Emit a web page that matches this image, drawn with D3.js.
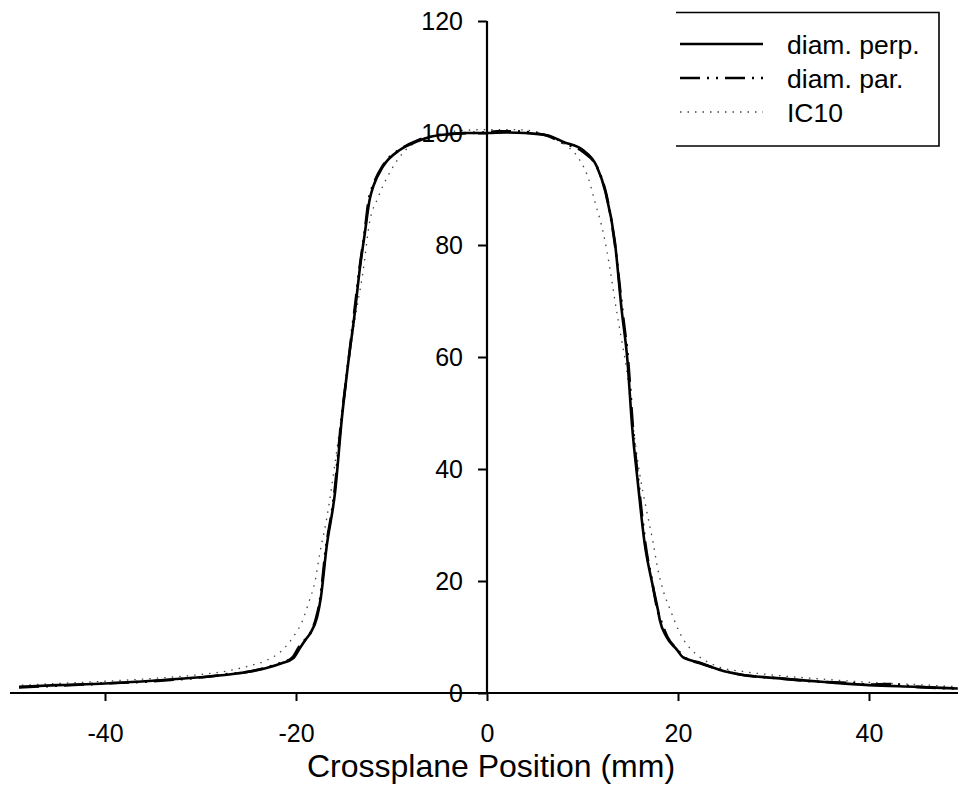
<!DOCTYPE html>
<html>
<head>
<meta charset="utf-8">
<script src="https://cdn.jsdelivr.net/npm/d3@7"></script>
<style>
  html, body { margin: 0; padding: 0; background: #fff; }
  svg { display: block; }
  text { font-family: "Liberation Sans", Arial, sans-serif; fill: #000; }
</style>
</head>
<body>
<svg id="chart" width="958" height="806"></svg>
<script>
// ---- data (mm, relative dose %) ----
const perpX = [-49, -45, -40, -35, -30, -27, -25, -23, -21.5, -20.3, -19.6, -19, -18.5, -17.8, -17.4, -16.8, -15.9, -15.2, -14.6, -13.8, -13.3, -12.8, -12.3, -11.9, -10.9, -9.1, -7.3, -6, -4, -2, 0, 2, 4, 6.3, 8, 10, 11.5, 12.4, 13.4, 14.1, 14.7, 15.2, 15.8, 16.5, 17.3, 17.9, 18.1, 18.8, 19.9, 20.5, 22.3, 24.4, 26.5, 30, 35, 40, 45, 49.3];
const perpY = [1.1, 1.4, 1.7, 2.2, 2.8, 3.3, 3.8, 4.5, 5.3, 6.2, 8.0, 9.5, 10.7, 13.5, 17, 26, 36, 49, 58, 68.5, 76, 82, 88, 90.5, 94, 97, 98.5, 99.3, 99.8, 100, 100, 100.1, 100, 99.6, 98.4, 97, 94, 89.5, 80.4, 68.4, 59.5, 47.5, 37.5, 26.8, 19.6, 14.8, 13, 10, 7.7, 6.4, 5.4, 4.1, 3.3, 2.7, 2.0, 1.4, 1.1, 0.8];

const parX = [-49, -45, -40, -35, -30, -27, -25, -23, -21.5, -20.4, -19.7, -19.1, -18.4, -17.9, -17.5, -16.9, -16.0, -15.3, -14.6, -13.9, -13.3, -12.8, -12.4, -11.9, -10.9, -9.0, -7.4, -6, -4, -2, 0, 1, 3, 4.5, 6.3, 8, 10, 11.6, 12.5, 13.4, 14.2, 14.8, 15.3, 15.9, 16.6, 17.3, 17.8, 18.2, 18.9, 19.9, 20.6, 22.3, 24.4, 26.5, 30, 35, 38, 40, 42, 45, 49.3];
const parY = [1.0, 1.3, 1.7, 2.1, 2.8, 3.4, 3.8, 4.6, 5.4, 6.3, 8.2, 9.4, 11, 13.4, 16.5, 25.5, 35.5, 48, 58, 68, 76.5, 82.5, 88, 90.8, 94.2, 97.2, 98.6, 99.4, 99.8, 100, 100.1, 100.3, 100.3, 100.1, 99.5, 98.2, 96.7, 93.6, 89, 80, 68, 59, 47, 37, 26.5, 19.8, 15.2, 13, 10, 7.8, 6.5, 5.3, 4.2, 3.3, 2.7, 2.0, 1.8, 1.5, 1.6, 1.1, 0.8];

const ic10X = [-48.7, -45, -40, -35, -30, -27, -25, -23, -21.4, -20.3, -19.3, -18.7, -18.0, -17.5, -16.8, -16.0, -15.2, -14.5, -13.8, -13.0, -12.3, -11.4, -10, -8.5, -7, -5, -3, 0, 3, 5, 7, 8.5, 9.7, 10.6, 11.3, 12.2, 12.9, 13.4, 14.1, 14.6, 15.2, 16, 16.7, 17.4, 17.9, 18.5, 19.2, 20.2, 21, 22, 24.4, 27, 30, 35, 40, 45, 49.5];
const ic10Y = [1.4, 1.7, 2.1, 2.6, 3.3, 4.0, 4.8, 5.9, 7.7, 10, 13, 16, 20, 25, 31, 40, 50, 59, 67, 75, 84, 88.5, 93.5, 97, 98.7, 99.8, 100.4, 100.6, 100.6, 100.3, 99, 97.5, 95.2, 92, 87.7, 82, 75.5, 70, 63, 58, 49, 39, 32.7, 26.8, 22, 18, 14.8, 10.7, 8.5, 6.8, 4.6, 3.8, 3.2, 2.5, 1.9, 1.5, 1.1];

const xTicks = [-40, -20, 0, 20, 40];
const yTicks = [0, 20, 40, 60, 80, 100, 120];
const seriesNames = ["diam. perp.", "diam. par.", "IC10"];
const xTitle = "Crossplane Position (mm)";

// ---- layout ----
const svg = d3.select("#chart");
const x = d3.scaleLinear().domain([-50, 50]).range([9.5, 964.5]);
const y = d3.scaleLinear().domain([0, 120]).range([693, 21]);

const series = [
  { name: seriesNames[0], xs: perpX, ys: perpY, stroke: "#000", width: 2.6, dash: null },
  { name: seriesNames[1], xs: parX, ys: parY, stroke: "#000", width: 2.6, dash: "20,7,2,7,2,7" },
  { name: seriesNames[2], xs: ic10X, ys: ic10Y, stroke: "#444", width: 1.3, dash: "1.5,6" }
];

const line = d3.line().x(d => x(d[0])).y(d => y(d[1])).curve(d3.curveMonotoneX);

// curves (draw IC10 first so solid lines are on top)
[series[2], series[1], series[0]].forEach(s => {
  svg.append("path")
    .datum(s.xs.map((v, i) => [v, s.ys[i]]))
    .attr("fill", "none")
    .attr("stroke", s.stroke)
    .attr("stroke-width", s.width)
    .attr("stroke-dasharray", s.dash)
    .attr("stroke-linejoin", "round")
    .attr("d", line);
});

const fmt = d => String(d);

// x axis
const xAxis = d3.axisBottom(x).tickValues(xTicks).tickSize(8).tickSizeOuter(0).tickPadding(23).tickFormat(fmt);
const gx = svg.append("g").attr("transform", `translate(0,${y(0)})`).call(xAxis);
gx.select(".domain").remove();
gx.append("line").attr("x1", 10).attr("x2", 958).attr("y1", 0).attr("y2", 0).attr("stroke", "#000").attr("stroke-width", 2.2);
gx.selectAll(".tick line").attr("stroke", "#000").attr("stroke-width", 2);
gx.selectAll(".tick text").style("font-size", "25px").style("font-family", "'Liberation Sans', Arial, sans-serif").attr("fill", "#000");

// y axis
const yAxis = d3.axisLeft(y).tickValues(yTicks).tickSize(9).tickSizeOuter(0).tickPadding(15).tickFormat(fmt);
const gy = svg.append("g").attr("transform", `translate(${x(0)},0)`).call(yAxis);
gy.select(".domain").remove();
gy.append("line").attr("x1", 0).attr("x2", 0).attr("y1", y(120)).attr("y2", y(0)).attr("stroke", "#000").attr("stroke-width", 2.2);
gy.selectAll(".tick line").attr("stroke", "#000").attr("stroke-width", 2);
gy.selectAll(".tick text").style("font-size", "25px").style("font-family", "'Liberation Sans', Arial, sans-serif").attr("fill", "#000");

// x title
svg.append("text").attr("x", 491).attr("y", 777).attr("text-anchor", "middle")
  .style("font-size", "32px").text(xTitle);

// legend
const lg = svg.append("g");
lg.append("path").attr("d", "M676,12.5H939V146H676").attr("fill", "none").attr("stroke", "#000").attr("stroke-width", 1.6);
const rowY = [44, 78, 112];
series.forEach((s, i) => {
  lg.append("line").attr("x1", 680).attr("x2", 763).attr("y1", rowY[i]).attr("y2", rowY[i])
    .attr("stroke", s.stroke).attr("stroke-width", s.width).attr("stroke-dasharray", s.dash);
  lg.append("text").attr("x", 787).attr("y", rowY[i]).attr("dy", "0.36em")
    .style("font-size", "26.5px").text(s.name);
});
</script>
</body>
</html>
